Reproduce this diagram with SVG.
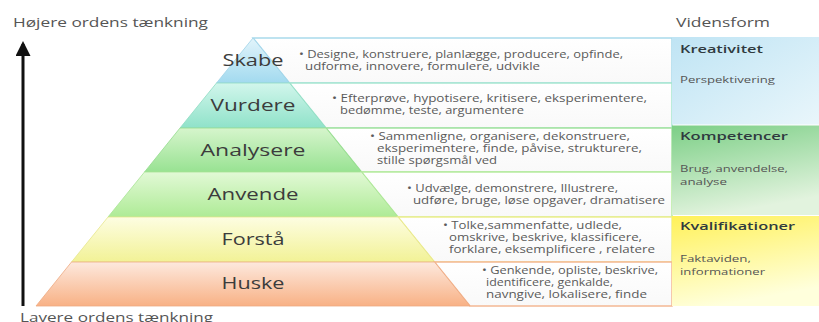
<svg xmlns="http://www.w3.org/2000/svg" width="819" height="322" viewBox="0 0 819 322">
<defs>
<linearGradient id="gSkabe" x1="0" y1="0" x2="0" y2="1"><stop offset="0" stop-color="#e2f4fb"/><stop offset="1" stop-color="#a2daef"/></linearGradient>
<linearGradient id="gVurdere" x1="0" y1="0" x2="0" y2="1"><stop offset="0" stop-color="#d2f6ec"/><stop offset="1" stop-color="#8fe2c9"/></linearGradient>
<linearGradient id="gAnalysere" x1="0" y1="0" x2="0" y2="1"><stop offset="0" stop-color="#d6f5cc"/><stop offset="1" stop-color="#98e292"/></linearGradient>
<linearGradient id="gAnvende" x1="0" y1="0" x2="0" y2="1"><stop offset="0" stop-color="#e2f9d6"/><stop offset="1" stop-color="#aeeb96"/></linearGradient>
<linearGradient id="gForsta" x1="0" y1="0" x2="0" y2="1"><stop offset="0" stop-color="#fdfde2"/><stop offset="1" stop-color="#f2f296"/></linearGradient>
<linearGradient id="gHuske" x1="0" y1="0" x2="0" y2="1"><stop offset="0" stop-color="#fde9de"/><stop offset="1" stop-color="#f8b185"/></linearGradient>
<linearGradient id="gKrea" x1="0" y1="0" x2="1" y2="1"><stop offset="0" stop-color="#bfe4f4"/><stop offset="1" stop-color="#e9f6fb"/></linearGradient>
<linearGradient id="gKomp" x1="0" y1="0" x2="0.3" y2="1"><stop offset="0" stop-color="#7ccf86"/><stop offset="1" stop-color="#e2f3de"/></linearGradient>
<linearGradient id="gKval" x1="0" y1="0" x2="0.3" y2="1"><stop offset="0" stop-color="#fff159"/><stop offset="1" stop-color="#ffffdc"/></linearGradient>
<linearGradient id="gBox" x1="0" y1="0" x2="0" y2="1"><stop offset="0" stop-color="#ffffff"/><stop offset="1" stop-color="#f9f9f9"/></linearGradient>
<marker id="arrowHead" viewBox="0 0 10 10" refX="8" refY="5" markerWidth="5" markerHeight="5" orient="auto" markerUnits="strokeWidth">
<path d="M0,0 L10,5 L0,10 z" fill="#111"/>
</marker>
</defs>
<style>
.lbl{font-family:"Open Sans","Noto Sans",sans-serif;font-size:16.5px;fill:#3c3c3c;text-anchor:middle}
.txt{font-family:"Open Sans","Noto Sans",sans-serif;font-size:10px;fill:#5a5a5a}
.side{font-family:"Open Sans","Noto Sans",sans-serif;font-size:13px;fill:#555}
.head{font-family:"Open Sans","Noto Sans",sans-serif;font-size:11.5px;font-weight:600;fill:#2f3a3f}
.sub{font-family:"Open Sans","Noto Sans",sans-serif;font-size:8.8px;fill:#555}
.box{fill:url(#gBox);stroke-width:1.5}
</style>
<rect width="819" height="322" fill="#ffffff"/>

<g id="connectors">
<line x1="23" y1="306" x2="23" y2="44" stroke="#111" stroke-width="3" marker-end="url(#arrowHead)"/>
</g>

<text class="side" x="13" y="27" textLength="195" lengthAdjust="spacingAndGlyphs">Højere ordens tænkning</text>
<text class="side" x="20" y="322" textLength="193" lengthAdjust="spacingAndGlyphs">Lavere ordens tænkning</text>
<text class="side" x="676" y="27" textLength="94" lengthAdjust="spacingAndGlyphs">Vidensform</text>

<g id="row-skabe">
<polygon class="box" points="253,38 672,38 672,83 289.5,83" stroke="#a9daec"/>
<polygon points="253,38 289.5,83 216.5,83" fill="url(#gSkabe)" stroke="#9fd3e8" stroke-width="0.8"/>
<text class="lbl" x="253" y="66" textLength="61" lengthAdjust="spacingAndGlyphs">Skabe</text>
<text class="txt" x="299" y="58" textLength="324" lengthAdjust="spacingAndGlyphs">• Designe, konstruere, planlægge, producere, opfinde,</text>
<text class="txt" x="305" y="70" textLength="235" lengthAdjust="spacingAndGlyphs">udforme, innovere, formulere, udvikle</text>
</g>

<g id="row-vurdere">
<polygon class="box" points="289.5,83 672,83 672,128 326,128" stroke="#a6e6cf"/>
<polygon points="216.5,83 289.5,83 326,128 180,128" fill="url(#gVurdere)" stroke="#8fdcc3" stroke-width="0.8"/>
<text class="lbl" x="253" y="111" textLength="85" lengthAdjust="spacingAndGlyphs">Vurdere</text>
<text class="txt" x="332" y="102" textLength="315" lengthAdjust="spacingAndGlyphs">• Efterprøve, hypotisere, kritisere, eksperimentere,</text>
<text class="txt" x="340" y="114" textLength="184" lengthAdjust="spacingAndGlyphs">bedømme, teste, argumentere</text>
</g>

<g id="row-analysere">
<polygon class="box" points="326,128 672,128 672,172 361.5,172" stroke="#a4e29e"/>
<polygon points="180,128 326,128 361.5,172 144.5,172" fill="url(#gAnalysere)" stroke="#94dc8e" stroke-width="0.8"/>
<text class="lbl" x="253" y="156" textLength="105" lengthAdjust="spacingAndGlyphs">Analysere</text>
<text class="txt" x="370" y="140" textLength="260" lengthAdjust="spacingAndGlyphs">• Sammenligne, organisere, dekonstruere,</text>
<text class="txt" x="377" y="152" textLength="265" lengthAdjust="spacingAndGlyphs">eksperimentere, finde, påvise, strukturere,</text>
<text class="txt" x="377" y="164" textLength="120" lengthAdjust="spacingAndGlyphs">stille spørgsmål ved</text>
</g>

<g id="row-anvende">
<polygon class="box" points="361.5,172 672,172 672,217 398,217" stroke="#b8eba0"/>
<polygon points="144.5,172 361.5,172 398,217 108,217" fill="url(#gAnvende)" stroke="#a8e494" stroke-width="0.8"/>
<text class="lbl" x="253" y="200" textLength="91" lengthAdjust="spacingAndGlyphs">Anvende</text>
<text class="txt" x="407" y="192" textLength="211" lengthAdjust="spacingAndGlyphs">• Udvælge, demonstrere, Illustrere,</text>
<text class="txt" x="413" y="204" textLength="252" lengthAdjust="spacingAndGlyphs">udføre, bruge, løse opgaver, dramatisere</text>
</g>

<g id="row-forsta">
<polygon class="box" points="398,217 672,217 672,262 434.5,262" stroke="#eeee8e"/>
<polygon points="108,217 398,217 434.5,262 71.5,262" fill="url(#gForsta)" stroke="#e6e68c" stroke-width="0.8"/>
<text class="lbl" x="253" y="245" textLength="63" lengthAdjust="spacingAndGlyphs">Forstå</text>
<text class="txt" x="443" y="229" textLength="179" lengthAdjust="spacingAndGlyphs">• Tolke,sammenfatte, udlede,</text>
<text class="txt" x="449" y="241" textLength="193" lengthAdjust="spacingAndGlyphs">omskrive, beskrive, klassificere,</text>
<text class="txt" x="449" y="253" textLength="206" lengthAdjust="spacingAndGlyphs">forklare, eksemplificere , relatere</text>
</g>

<g id="row-huske">
<polygon class="box" points="434.5,262 672,262 672,306 470,306" stroke="#f4b894"/>
<polygon points="71.5,262 434.5,262 470,306 36,306" fill="url(#gHuske)" stroke="#eea982" stroke-width="0.8"/>
<text class="lbl" x="253" y="289" textLength="63" lengthAdjust="spacingAndGlyphs">Huske</text>
<text class="txt" x="482" y="274" textLength="176" lengthAdjust="spacingAndGlyphs">• Genkende, opliste, beskrive,</text>
<text class="txt" x="486" y="286" textLength="127" lengthAdjust="spacingAndGlyphs">identificere, genkalde,</text>
<text class="txt" x="486" y="298" textLength="161" lengthAdjust="spacingAndGlyphs">navngive, lokalisere, finde</text>
</g>

<g id="kreativitet">
<rect x="672" y="37" width="147" height="87.5" fill="url(#gKrea)"/>
<text class="head" x="680" y="53" textLength="83" lengthAdjust="spacingAndGlyphs">Kreativitet</text>
<text class="sub" x="680" y="83" textLength="95" lengthAdjust="spacingAndGlyphs">Perspektivering</text>
</g>

<g id="kompetencer">
<rect x="672" y="125.5" width="147" height="89.5" fill="url(#gKomp)"/>
<text class="head" x="680" y="140" textLength="108" lengthAdjust="spacingAndGlyphs">Kompetencer</text>
<text class="sub" x="680" y="172" textLength="108" lengthAdjust="spacingAndGlyphs">Brug, anvendelse,</text>
<text class="sub" x="680" y="185" textLength="47" lengthAdjust="spacingAndGlyphs">analyse</text>
</g>

<g id="kvalifikationer">
<rect x="672" y="216" width="147" height="90" fill="url(#gKval)"/>
<text class="head" x="680" y="230" textLength="115" lengthAdjust="spacingAndGlyphs">Kvalifikationer</text>
<text class="sub" x="680" y="262" textLength="71" lengthAdjust="spacingAndGlyphs">Faktaviden,</text>
<text class="sub" x="680" y="275" textLength="85" lengthAdjust="spacingAndGlyphs">informationer</text>
</g>
</svg>
